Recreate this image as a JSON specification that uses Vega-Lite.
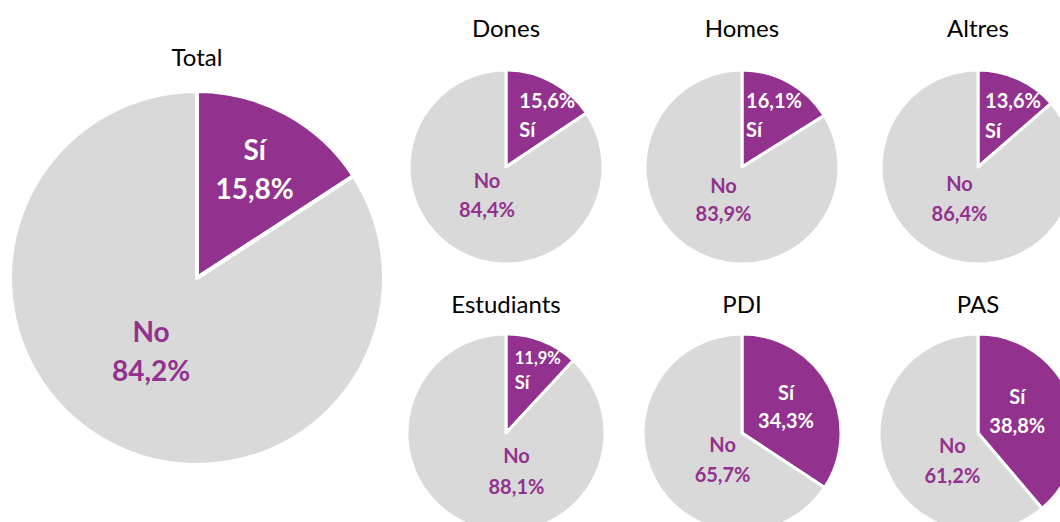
{
  "$schema": "https://vega.github.io/schema/vega-lite/v6.json",
  "padding": {"top": 18, "left": 0, "right": 0, "bottom": 0},
  "background": "white",
  "config": {
    "font": "Lato",
    "view": {"stroke": null},
    "title": {"font": "Lato", "fontSize": 24, "fontWeight": "normal", "color": "#000000", "anchor": "middle", "offset": 8},
    "locale": {"number": {"decimal": ",", "thousands": ".", "grouping": [3], "currency": ["", " €"]}},
    "text": {"font": "Lato", "fontWeight": "bold"},
    "arc": {"stroke": "white", "strokeJoin": "round"}
  },
  "datasets": {
    "d": [
      {"grup": "Total", "resposta": "Sí", "pct": 0.158},
      {"grup": "Total", "resposta": "No", "pct": 0.842},
      {"grup": "Dones", "resposta": "Sí", "pct": 0.156},
      {"grup": "Dones", "resposta": "No", "pct": 0.844},
      {"grup": "Homes", "resposta": "Sí", "pct": 0.161},
      {"grup": "Homes", "resposta": "No", "pct": 0.839},
      {"grup": "Altres", "resposta": "Sí", "pct": 0.136},
      {"grup": "Altres", "resposta": "No", "pct": 0.864},
      {"grup": "Estudiants", "resposta": "Sí", "pct": 0.119},
      {"grup": "Estudiants", "resposta": "No", "pct": 0.881},
      {"grup": "PDI", "resposta": "Sí", "pct": 0.343},
      {"grup": "PDI", "resposta": "No", "pct": 0.657},
      {"grup": "PAS", "resposta": "Sí", "pct": 0.388},
      {"grup": "PAS", "resposta": "No", "pct": 0.612}
    ]
  },
  "spacing": 9,
  "hconcat": [
    {
      "title": {"text": "Total", "dy": 29},
      "width": 394, "height": 456,
      "data": {"name": "d"},
      "transform": [{"filter": "datum.grup === 'Total'"}],
      "encoding": {
        "theta": {"field": "pct", "type": "quantitative", "stack": true},
        "order": {"field": "pct", "sort": "ascending"}
      },
      "layer": [
        {"mark": {"type": "arc", "outerRadius": 187, "strokeWidth": 4},
         "encoding": {"color": {"field": "resposta", "type": "nominal", "scale": {"domain": ["Sí", "No"], "range": ["#93318E", "#D9D9D9"]}, "legend": null}}},
        {"mark": {"type": "text", "radius": 121, "dy": -19.5, "fontSize": 28, "color": "white"},
         "encoding": {"text": {"condition": {"test": "datum.resposta === 'Sí'", "field": "resposta", "type": "nominal"}, "value": ""}}},
        {"mark": {"type": "text", "radius": 121, "dy": 19.5, "fontSize": 28, "color": "white"},
         "encoding": {"text": {"condition": {"test": "datum.resposta === 'Sí'", "field": "pct", "type": "quantitative", "format": ".1%"}, "value": ""}}},
        {"mark": {"type": "text", "radius": 88, "dx": -4, "dy": -21.5, "fontSize": 28, "color": "#93318E"},
         "encoding": {"text": {"condition": {"test": "datum.resposta === 'No'", "field": "resposta", "type": "nominal"}, "value": ""}}},
        {"mark": {"type": "text", "radius": 88, "dx": -4, "dy": 17.5, "fontSize": 28, "color": "#93318E"},
         "encoding": {"text": {"condition": {"test": "datum.resposta === 'No'", "field": "pct", "type": "quantitative", "format": ".1%"}, "value": ""}}}
      ]
    },
    {
      "spacing": 10,
      "vconcat": [
        {
          "spacing": 30,
          "hconcat": [
            {
              "title": "Dones",
              "width": 206, "height": 234,
              "data": {"name": "d"},
              "transform": [{"filter": "datum.grup === 'Dones'"}],
              "encoding": {
                "theta": {"field": "pct", "type": "quantitative", "stack": true},
                "order": {"field": "pct", "sort": "ascending"}
              },
              "layer": [
                {"mark": {"type": "arc", "outerRadius": 97, "strokeWidth": 3},
                 "encoding": {"color": {"field": "resposta", "type": "nominal", "scale": {"domain": ["Sí", "No"], "range": ["#93318E", "#D9D9D9"]}, "legend": null}}},
                {"mark": {"type": "text", "radius": 58, "align": "left", "dx": -14, "dy": -14.3, "fontSize": 20, "color": "white"},
                 "encoding": {"text": {"condition": {"test": "datum.resposta === 'Sí'", "field": "pct", "type": "quantitative", "format": ".1%"}, "value": ""}}},
                {"mark": {"type": "text", "radius": 58, "align": "left", "dx": -14, "dy": 15.2, "fontSize": 20, "color": "white"},
                 "encoding": {"text": {"condition": {"test": "datum.resposta === 'Sí'", "field": "resposta", "type": "nominal"}, "value": ""}}},
                {"mark": {"type": "text", "radius": 35, "dx": -2.5, "dy": -15.4, "fontSize": 20, "color": "#93318E"},
                 "encoding": {"text": {"condition": {"test": "datum.resposta === 'No'", "field": "resposta", "type": "nominal"}, "value": ""}}},
                {"mark": {"type": "text", "radius": 35, "dx": -2.5, "dy": 13.6, "fontSize": 20, "color": "#93318E"},
                 "encoding": {"text": {"condition": {"test": "datum.resposta === 'No'", "field": "pct", "type": "quantitative", "format": ".1%"}, "value": ""}}}
              ]
            },
            {
              "title": "Homes",
              "width": 206, "height": 234,
              "data": {"name": "d"},
              "transform": [{"filter": "datum.grup === 'Homes'"}],
              "encoding": {
                "theta": {"field": "pct", "type": "quantitative", "stack": true},
                "order": {"field": "pct", "sort": "ascending"}
              },
              "layer": [
                {"mark": {"type": "arc", "outerRadius": 97, "strokeWidth": 3},
                 "encoding": {"color": {"field": "resposta", "type": "nominal", "scale": {"domain": ["Sí", "No"], "range": ["#93318E", "#D9D9D9"]}, "legend": null}}},
                {"mark": {"type": "text", "radius": 58, "align": "left", "dx": -24, "dy": -14.6, "fontSize": 20, "color": "white"},
                 "encoding": {"text": {"condition": {"test": "datum.resposta === 'Sí'", "field": "pct", "type": "quantitative", "format": ".1%"}, "value": ""}}},
                {"mark": {"type": "text", "radius": 58, "align": "left", "dx": -24, "dy": 14.7, "fontSize": 20, "color": "white"},
                 "encoding": {"text": {"condition": {"test": "datum.resposta === 'Sí'", "field": "resposta", "type": "nominal"}, "value": ""}}},
                {"mark": {"type": "text", "radius": 35, "dx": -1.5, "dy": -10.9, "fontSize": 20, "color": "#93318E"},
                 "encoding": {"text": {"condition": {"test": "datum.resposta === 'No'", "field": "resposta", "type": "nominal"}, "value": ""}}},
                {"mark": {"type": "text", "radius": 35, "dx": -1.5, "dy": 17.4, "fontSize": 20, "color": "#93318E"},
                 "encoding": {"text": {"condition": {"test": "datum.resposta === 'No'", "field": "pct", "type": "quantitative", "format": ".1%"}, "value": ""}}}
              ]
            },
            {
              "title": "Altres",
              "width": 206, "height": 234,
              "data": {"name": "d"},
              "transform": [{"filter": "datum.grup === 'Altres'"}],
              "encoding": {
                "theta": {"field": "pct", "type": "quantitative", "stack": true},
                "order": {"field": "pct", "sort": "ascending"}
              },
              "layer": [
                {"mark": {"type": "arc", "outerRadius": 97, "strokeWidth": 3},
                 "encoding": {"color": {"field": "resposta", "type": "nominal", "scale": {"domain": ["Sí", "No"], "range": ["#93318E", "#D9D9D9"]}, "legend": null}}},
                {"mark": {"type": "text", "radius": 58, "align": "left", "dx": -17, "dy": -12.5, "fontSize": 20, "color": "white"},
                 "encoding": {"text": {"condition": {"test": "datum.resposta === 'Sí'", "field": "pct", "type": "quantitative", "format": ".1%"}, "value": ""}}},
                {"mark": {"type": "text", "radius": 58, "align": "left", "dx": -17, "dy": 17.5, "fontSize": 20, "color": "white"},
                 "encoding": {"text": {"condition": {"test": "datum.resposta === 'Sí'", "field": "resposta", "type": "nominal"}, "value": ""}}},
                {"mark": {"type": "text", "radius": 35, "dx": -4, "dy": -13.9, "fontSize": 20, "color": "#93318E"},
                 "encoding": {"text": {"condition": {"test": "datum.resposta === 'No'", "field": "resposta", "type": "nominal"}, "value": ""}}},
                {"mark": {"type": "text", "radius": 35, "dx": -4, "dy": 16.2, "fontSize": 20, "color": "#93318E"},
                 "encoding": {"text": {"condition": {"test": "datum.resposta === 'No'", "field": "pct", "type": "quantitative", "format": ".1%"}, "value": ""}}}
              ]
            }
          ]
        },
        {
          "spacing": 30,
          "hconcat": [
            {
              "title": "Estudiants",
              "width": 206, "height": 214,
              "data": {"name": "d"},
              "transform": [{"filter": "datum.grup === 'Estudiants'"}],
              "encoding": {
                "theta": {"field": "pct", "type": "quantitative", "stack": true},
                "order": {"field": "pct", "sort": "ascending"}
              },
              "layer": [
                {"mark": {"type": "arc", "outerRadius": 99, "strokeWidth": 3},
                 "encoding": {"color": {"field": "resposta", "type": "nominal", "scale": {"domain": ["Sí", "No"], "range": ["#93318E", "#D9D9D9"]}, "legend": null}}},
                {"mark": {"type": "text", "radius": 65, "align": "left", "dx": -15, "dy": -13.5, "fontSize": 16.5, "color": "white"},
                 "encoding": {"text": {"condition": {"test": "datum.resposta === 'Sí'", "field": "pct", "type": "quantitative", "format": ".1%"}, "value": ""}}},
                {"mark": {"type": "text", "radius": 65, "align": "left", "dx": -15, "dy": 10.5, "fontSize": 18.5, "color": "white"},
                 "encoding": {"text": {"condition": {"test": "datum.resposta === 'Sí'", "field": "resposta", "type": "nominal"}, "value": ""}}},
                {"mark": {"type": "text", "radius": 39, "dx": 24.7, "dy": -12.3, "fontSize": 20, "color": "#93318E"},
                 "encoding": {"text": {"condition": {"test": "datum.resposta === 'No'", "field": "resposta", "type": "nominal"}, "value": ""}}},
                {"mark": {"type": "text", "radius": 39, "dx": 24.7, "dy": 18.2, "fontSize": 20, "color": "#93318E"},
                 "encoding": {"text": {"condition": {"test": "datum.resposta === 'No'", "field": "pct", "type": "quantitative", "format": ".1%"}, "value": ""}}}
              ]
            },
            {
              "title": "PDI",
              "width": 206, "height": 214,
              "data": {"name": "d"},
              "transform": [{"filter": "datum.grup === 'PDI'"}],
              "encoding": {
                "theta": {"field": "pct", "type": "quantitative", "stack": true},
                "order": {"field": "pct", "sort": "ascending"}
              },
              "layer": [
                {"mark": {"type": "arc", "outerRadius": 99, "strokeWidth": 3},
                 "encoding": {"color": {"field": "resposta", "type": "nominal", "scale": {"domain": ["Sí", "No"], "range": ["#93318E", "#D9D9D9"]}, "legend": null}}},
                {"mark": {"type": "text", "radius": 50, "dy": -15.3, "fontSize": 20, "color": "white"},
                 "encoding": {"text": {"condition": {"test": "datum.resposta === 'Sí'", "field": "resposta", "type": "nominal"}, "value": ""}}},
                {"mark": {"type": "text", "radius": 50, "dy": 12.7, "fontSize": 20, "color": "white"},
                 "encoding": {"text": {"condition": {"test": "datum.resposta === 'Sí'", "field": "pct", "type": "quantitative", "format": ".1%"}, "value": ""}}},
                {"mark": {"type": "text", "radius": 30, "dx": 7, "dy": -1.5, "fontSize": 20, "color": "#93318E"},
                 "encoding": {"text": {"condition": {"test": "datum.resposta === 'No'", "field": "resposta", "type": "nominal"}, "value": ""}}},
                {"mark": {"type": "text", "radius": 30, "dx": 7, "dy": 28.5, "fontSize": 20, "color": "#93318E"},
                 "encoding": {"text": {"condition": {"test": "datum.resposta === 'No'", "field": "pct", "type": "quantitative", "format": ".1%"}, "value": ""}}}
              ]
            },
            {
              "title": "PAS",
              "width": 206, "height": 214,
              "data": {"name": "d"},
              "transform": [{"filter": "datum.grup === 'PAS'"}],
              "encoding": {
                "theta": {"field": "pct", "type": "quantitative", "stack": true},
                "order": {"field": "pct", "sort": "ascending"}
              },
              "layer": [
                {"mark": {"type": "arc", "outerRadius": 99, "strokeWidth": 3},
                 "encoding": {"color": {"field": "resposta", "type": "nominal", "scale": {"domain": ["Sí", "No"], "range": ["#93318E", "#D9D9D9"]}, "legend": null}}},
                {"mark": {"type": "text", "radius": 44, "dx": -2, "dy": -20, "fontSize": 20, "color": "white"},
                 "encoding": {"text": {"condition": {"test": "datum.resposta === 'Sí'", "field": "resposta", "type": "nominal"}, "value": ""}}},
                {"mark": {"type": "text", "radius": 44, "dx": -2, "dy": 9.2, "fontSize": 20, "color": "white"},
                 "encoding": {"text": {"condition": {"test": "datum.resposta === 'Sí'", "field": "pct", "type": "quantitative", "format": ".1%"}, "value": ""}}},
                {"mark": {"type": "text", "radius": 30, "dx": 2.5, "dy": 3.6, "fontSize": 20, "color": "#93318E"},
                 "encoding": {"text": {"condition": {"test": "datum.resposta === 'No'", "field": "resposta", "type": "nominal"}, "value": ""}}},
                {"mark": {"type": "text", "radius": 30, "dx": 2.5, "dy": 33.6, "fontSize": 20, "color": "#93318E"},
                 "encoding": {"text": {"condition": {"test": "datum.resposta === 'No'", "field": "pct", "type": "quantitative", "format": ".1%"}, "value": ""}}}
              ]
            }
          ]
        }
      ]
    }
  ]
}
